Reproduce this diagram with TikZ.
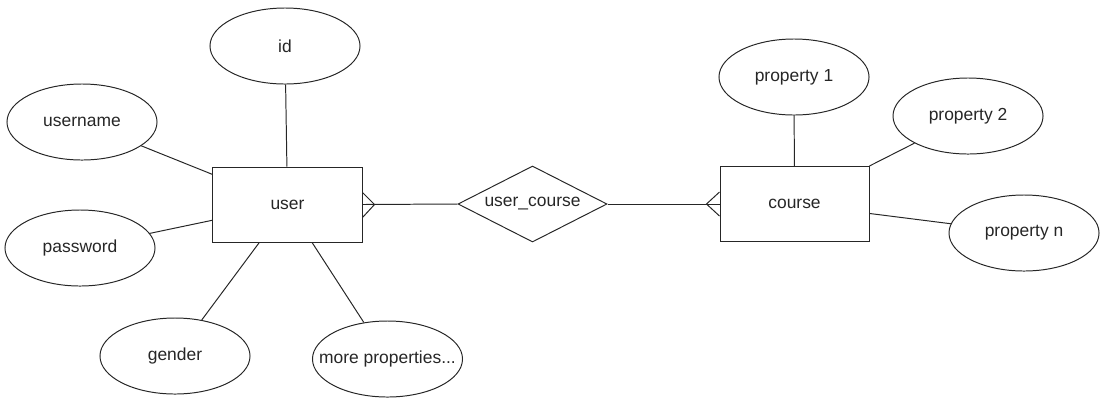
\documentclass[tikz,border=0pt]{standalone}
\usepackage{fontspec}
\setmainfont{Liberation Sans}
\usepackage{tikz}
\usetikzlibrary{calc,shapes.geometric}

\tikzset{
  entity/.style={draw, rectangle, minimum width=3.725cm, minimum height=1.875cm, inner sep=0pt},
  attr/.style={draw, ellipse, minimum width=3.75cm, minimum height=1.9cm, inner sep=0pt},
  relation/.style={draw, diamond, aspect=2, minimum width=3.725cm, minimum height=1.9cm, inner sep=0pt},
  link/.style={black!85, line width=0.7pt}
}

\begin{document}
\begin{tikzpicture}[x=0.025cm, y=-0.025cm, black!85, line width=0.7pt,
    font=\fontsize{12.4}{14}\selectfont]
\useasboundingbox (0,0) rectangle (1102,397);

% Entities and the relation between them
\node[entity] (user) at (287.5,204.5) {user};
\node[entity] (course) at (794.5,204) {course};
\node[relation] (usercourse) at (532.5,204) {user\_course};

% Attributes of user
\node[attr] (id) at (285,46) {id};
\node[attr] (username) at (82,122) {username};
\node[attr] (password) at (80,248) {password};
\node[attr] (gender) at (175,356) {gender};
% text fills this one edge to edge, so keep the ellipse at its minimum size
\node[attr, label=center:{more properties...}] (more) at (387.5,359) {};

% Attributes of course
\node[attr] (prop1) at (794,77) {property 1};
\node[attr] (prop2) at (968,116) {property 2};
\node[attr] (propn) at (1024,233) {property n};

% Attribute links
\foreach \a in {id,username,password,gender,more}
  \draw[link] (\a) -- (user);
\foreach \a in {prop1,prop2,propn}
  \draw[link] (\a) -- (course);

% Relation links with crow's feet
\draw[link] (usercourse.west) -- (user.east);
\draw[link] ($(user.east)+(0,-12)$) -- ($(user.east)+(12,0)$) -- ($(user.east)+(0,13)$);
\draw[link] (usercourse.east) -- (course.west);
\draw[link] ($(course.west)+(0,-12)$) -- ($(course.west)+(-13,0)$) -- ($(course.west)+(0,12)$);
\end{tikzpicture}
\end{document}
